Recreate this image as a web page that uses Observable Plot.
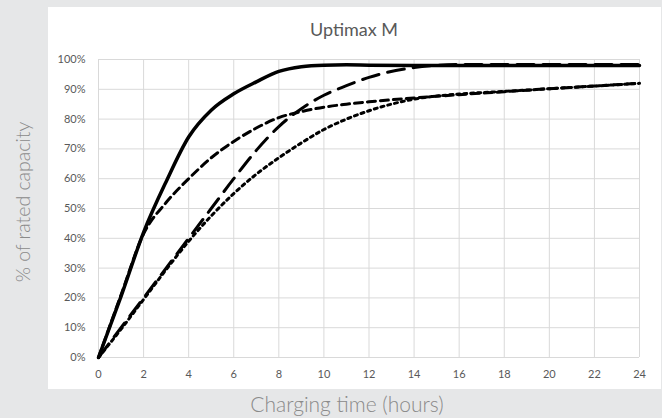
<!DOCTYPE html>
<html>
<head>
<meta charset="utf-8">
<script src="https://cdn.jsdelivr.net/npm/d3@7"></script>
<script src="https://cdn.jsdelivr.net/npm/@observablehq/plot@0.6"></script>
<style>
  body { margin: 0; background: #e6e7e8; }
  #wrap { position: relative; width: 662px; height: 418px; overflow: hidden; background: #e6e7e8; }
  #bg, #chart { position: absolute; left: 0; top: 0; }
</style>
</head>
<body>
<div id="wrap"><div id="bg"></div><div id="chart"></div></div>
<script>
// ---- data ----
const hours   = [0, 1, 2, 3, 4, 5, 6, 7, 8, 9, 10, 11, 12, 14, 16, 18, 20, 22, 24];
const solid   = [0, 20.5, 42, 59, 74, 83, 88.5, 92.5, 96, 97.6, 98.1, 98.2, 98.1, 98, 98, 98, 98, 98, 98];
const shortDash = [0, 21, 41.5, 52, 60, 67, 72.5, 77, 80.5, 82.5, 84, 85, 85.8, 87.1, 88.2, 89.2, 90.2, 91.1, 92];
const longDash  = [0, 10, 20, 30, 40, 50, 60, 69.5, 77.5, 83.5, 88, 91.2, 94, 97.3, 98.3, 98.3, 98.3, 98.3, 98.3];
const dotted    = [0, 9.5, 19.5, 29.5, 39, 47.5, 55, 61.5, 67, 72, 76.5, 80, 82.8, 86.7, 88.4, 89.3, 90.2, 91.1, 92];
const xTicks = [0, 2, 4, 6, 8, 10, 12, 14, 16, 18, 20, 22, 24];
const yTicks = [0, 10, 20, 30, 40, 50, 60, 70, 80, 90, 100];
const chartTitle = "Uptimax M";
const xTitle = "Charging time (hours)";
const yTitle = "% of rated capacity";

const rows = vals => hours.map((h, i) => ({h, v: vals[i]}));
const W = 662, H = 418;

// background panel + titles
const bg = d3.select("#bg").append("svg").attr("width", W).attr("height", H);
bg.append("rect").attr("x", 0).attr("y", 0).attr("width", W).attr("height", H).attr("fill", "#e6e7e8");
bg.append("rect").attr("x", 48).attr("y", 7).attr("width", 613).attr("height", 382).attr("fill", "#ffffff");
bg.append("text").text(chartTitle).attr("x", 354).attr("y", 36).attr("text-anchor", "middle")
  .attr("font-family", "Lato, 'Open Sans', sans-serif").attr("font-size", 18).attr("fill", "#595959");
bg.append("text").text(xTitle).attr("x", 347).attr("y", 412).attr("text-anchor", "middle")
  .attr("font-family", "Lato, 'Open Sans', sans-serif").attr("font-weight", 300).attr("font-size", 21).attr("fill", "#8a8a8a");
bg.append("text").text(yTitle).attr("transform", "translate(30,202) rotate(-90)").attr("text-anchor", "middle")
  .attr("font-family", "Lato, 'Open Sans', sans-serif").attr("font-weight", 300).attr("font-size", 19.5).attr("fill", "#8a8a8a");

const lineOpts = {x: "h", y: "v", stroke: "#000", strokeWidth: 3, curve: "monotone-x"};

const chart = Plot.plot({
  width: W, height: H,
  marginLeft: 98, marginRight: 23, marginTop: 59, marginBottom: 61,
  style: {background: "transparent", fontFamily: "Lato, 'Open Sans', sans-serif", fontSize: "11px", color: "#595959"},
  x: {domain: [0, 24], label: null},
  y: {domain: [0, 100], label: null},
  marks: [
    Plot.gridX(xTicks, {stroke: "#d9d9d9", strokeOpacity: 1, strokeWidth: 1}),
    Plot.gridY(yTicks, {stroke: "#d9d9d9", strokeOpacity: 1, strokeWidth: 1}),
    Plot.axisX({ticks: xTicks, tickSize: 0, tickPadding: 13, label: null}),
    Plot.axisY({ticks: yTicks, tickSize: 0, tickPadding: 13, tickFormat: d => d + "%", label: null}),
    Plot.line(rows(dotted), {...lineOpts, strokeDasharray: "3 4"}),
    Plot.line(rows(shortDash), {...lineOpts, strokeDasharray: "8 5"}),
    Plot.line(rows(longDash), {...lineOpts, strokeDasharray: "17 9"}),
    Plot.line(rows(solid), {...lineOpts, strokeWidth: 3.5})
  ]
});
document.getElementById("chart").appendChild(chart);
</script>
</body>
</html>
